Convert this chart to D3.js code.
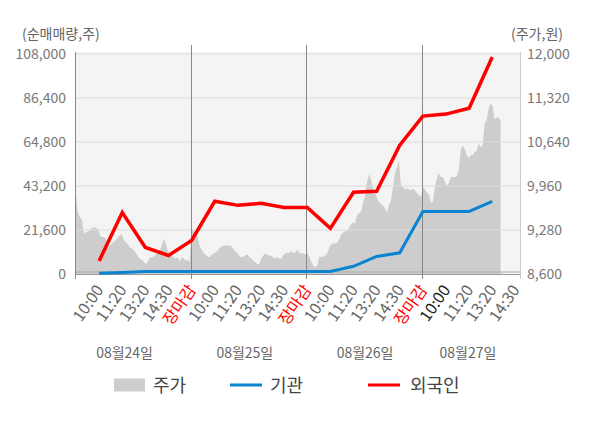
<!DOCTYPE html>
<html>
<head>
<meta charset="utf-8">
<script src="https://cdn.jsdelivr.net/npm/d3@7"></script>
<style>
  body { margin: 0; background: #fff; }
  text { font-family: "Noto Sans CJK KR", "Noto Sans", sans-serif; }
</style>
</head>
<body>
<div id="chart"></div>
<script>
// 날짜, 시간 라벨
const days = ["08월24일", "08월25일", "08월26일", "08월27일"];
const timeLabels = ["10:00", "11:20", "13:20", "14:30", "장마감"];
const lastDayLabels = ["10:00", "11:20", "13:20", "14:30"];

// 순매매량 (10:00 ~ 마지막 구간)
const foreign = [6400, 30200, 13000, 9100, 16500, 35700, 33700, 34700, 32700, 32700,
  22400, 40100, 40600, 63200, 77500, 78500, 81400, 106500];
const inst = [400, 700, 1200, 1200, 1200, 1200, 1200, 1200, 1200, 1200,
  1200, 3800, 8600, 10400, 30700, 30700, 30700, 35700];

// 주가 (일자별)
const price1 = [9820, 9540, 9480, 9430, 9230, 9240, 9260, 9270, 9320, 9320, 9320, 9290, 9200, 9170, 9170,
  9150, 9040, 9040, 9070, 9100, 9130, 9170, 9200, 9210, 9130, 9090, 9060, 9010, 9000, 8960, 8930, 8870,
  8840, 8820, 8790, 8750, 8790, 8860, 8860, 8870, 8900, 8920, 8960, 9040, 9150, 9070, 8960, 8920, 8890,
  8860, 8840, 8860, 8790, 8860, 8840, 8810, 8820, 8780];
const price2 = [9300, 9270, 9240, 9170, 9040, 8980, 8930, 8900, 8870, 8860, 8890, 8920, 8930, 8960, 9000,
  9030, 9040, 9040, 9040, 9040, 9030, 8980, 8950, 8920, 8870, 8860, 8870, 8890, 8900, 8860, 8840, 8810,
  8780, 8750, 8760, 8840, 8890, 8920, 8890, 8890, 8870, 8860, 8840, 8860, 8840, 8840, 8890, 8920, 8930,
  8920, 8950, 8930, 8930, 8980, 8930, 8920, 8920, 8900];
const price3 = [8930, 8870, 8790, 8730, 8700, 8730, 8870, 8860, 8870, 8890, 8920, 9000, 9060, 9070, 9070,
  9090, 9130, 9210, 9240, 9260, 9270, 9320, 9370, 9400, 9380, 9510, 9540, 9570, 9710, 9790, 10020, 10140,
  10060, 9920, 9850, 9770, 9710, 9690, 9660, 9610, 9550, 9660, 9740, 9940, 10160, 10250, 10360, 9970,
  9940, 9910, 9920, 9910, 9890, 9920, 9890, 9850, 9820, 9790];
const price4 = [9940, 9910, 9860, 9830, 9710, 9710, 9940, 10080, 10160, 10100, 10100, 10030, 9970, 10000,
  10100, 10100, 10100, 10110, 10200, 10510, 10590, 10530, 10440, 10390, 10440, 10440, 10480, 10510, 10620,
  10560, 10590, 10930, 10980, 11160, 11240, 11200, 10990, 11020, 11020, 10960];

const leftTicks = [0, 21600, 43200, 64800, 86400, 108000];
const rightTicks = [8600, 9280, 9960, 10640, 11320, 12000];

const width = 600;
const height = 428;
const mLeft = 76, mRight = 520, mTop = 54, mBottom = 274;
const perDay = 58; // 하루 주가 표본 수

const x = d3.scaleLinear().domain([0, 19.2]).range([mLeft, mRight]);
const yL = d3.scaleLinear().domain([0, 108000]).range([mBottom, mTop]);
const yR = d3.scaleLinear().domain([8600, 12000]).range([mBottom, mTop]);

const svg = d3.select("#chart").append("svg")
  .attr("width", width).attr("height", height);

// 배경
svg.append("rect")
  .attr("x", mLeft).attr("y", mTop - 2)
  .attr("width", mRight - mLeft).attr("height", mBottom - mTop + 2)
  .attr("fill", "#f4f4f4");

// 주가 영역
const priceData = [price1, price2, price3, price4].flatMap((arr, d) =>
  arr.map((v, i) => ({ s: d * 5 + (i * 5) / perDay, v }))
);
const area = d3.area()
  .x((d) => x(d.s))
  .y0(yR(8600))
  .y1((d) => yR(d.v));
svg.append("path").datum(priceData)
  .attr("d", area)
  .attr("fill", "#cdcdcd");

// 가로 격자
svg.append("g").selectAll("line")
  .data(leftTicks.slice(1))
  .join("line")
  .attr("x1", mLeft).attr("x2", mRight)
  .attr("y1", (d) => yL(d)).attr("y2", (d) => yL(d))
  .attr("stroke", "#dcdcdc").attr("stroke-width", 1);

svg.append("line")
  .attr("x1", mLeft).attr("x2", mRight)
  .attr("y1", mBottom - 2).attr("y2", mBottom - 2)
  .attr("stroke", "#aaa");
svg.append("line")
  .attr("x1", mLeft).attr("x2", mRight)
  .attr("y1", mBottom + 0.5).attr("y2", mBottom + 0.5)
  .attr("stroke", "#999");

// 세로 구분선 (일자 경계 + 좌우 축)
svg.append("g").selectAll("line")
  .data([0, 5, 10, 15])
  .join("line")
  .attr("x1", (d) => Math.round(x(d)) - 0.5).attr("x2", (d) => Math.round(x(d)) - 0.5)
  .attr("y1", (d) => (d === 0 ? mTop - 2 : 45)).attr("y2", mBottom + 5)
  .attr("stroke", "#888");
svg.append("line")
  .attr("x1", mRight + 0.5).attr("x2", mRight + 0.5)
  .attr("y1", mTop - 2).attr("y2", mBottom + 5)
  .attr("stroke", "#ccc");

// 기관, 외국인 선
const line = d3.line().x((d, i) => x(i + 1)).y((d) => yL(d));
svg.append("path").datum(inst)
  .attr("d", line).attr("fill", "none")
  .attr("stroke", "#0a84d0").attr("stroke-width", 3);
svg.append("path").datum(foreign)
  .attr("d", line).attr("fill", "none")
  .attr("stroke", "#ff0000").attr("stroke-width", 3.5)
  .attr("stroke-linejoin", "miter");

// 좌측 축 라벨
svg.append("g").selectAll("text")
  .data(leftTicks)
  .join("text")
  .attr("x", 66).attr("y", (d) => yL(d))
  .attr("dy", "0.35em")
  .attr("text-anchor", "end")
  .attr("fill", "#777").style("font-size", "14px")
  .text((d) => d3.format(",")(d));

// 우측 축 라벨
svg.append("g").selectAll("text")
  .data(rightTicks)
  .join("text")
  .attr("x", 527).attr("y", (d) => yR(d))
  .attr("dy", "0.35em")
  .attr("fill", "#777").style("font-size", "14px")
  .text((d) => d3.format(",")(d));

svg.append("text").attr("x", 22).attr("y", 39)
  .attr("fill", "#666").style("font-size", "14px")
  .text("(순매매량,주)");
svg.append("text").attr("x", 563).attr("y", 39)
  .attr("text-anchor", "end")
  .attr("fill", "#666").style("font-size", "14px")
  .text("(주가,원)");

// x축 라벨
const xLabels = days.flatMap((day, d) =>
  (d < 3 ? timeLabels : lastDayLabels).map((t, i) => ({ s: d * 5 + i + 1, t, d, i }))
);
svg.append("g").selectAll("text")
  .data(xLabels)
  .join("text")
  .attr("transform", (d) => `translate(${x(d.s) + 5}, 290) rotate(-55)`)
  .attr("text-anchor", "end")
  .attr("fill", (d) => (d.t === "장마감" ? "#ff0000" : d.d === 3 && d.i === 0 ? "#222" : "#666"))
  .style("font-size", "16px")
  .text((d) => d.t);

// 날짜 라벨
const dayPos = [2.1, 7.3, 12.5, 16.95];
svg.append("g").selectAll("text")
  .data(days)
  .join("text")
  .attr("x", (d, i) => x(dayPos[i])).attr("y", 358)
  .attr("text-anchor", "middle")
  .attr("fill", "#666").style("font-size", "14px")
  .text((d) => d);

// 범례
const legend = svg.append("g").attr("transform", "translate(0, 385)");
legend.append("rect").attr("x", 114).attr("y", -6.5)
  .attr("width", 31).attr("height", 13).attr("fill", "#cdcdcd");
legend.append("text").attr("x", 153).attr("y", 7)
  .attr("fill", "#444").style("font-size", "18px").text("주가");
legend.append("line").attr("x1", 230).attr("x2", 262)
  .attr("stroke", "#0a84d0").attr("stroke-width", 3);
legend.append("text").attr("x", 270).attr("y", 7)
  .attr("fill", "#444").style("font-size", "18px").text("기관");
legend.append("line").attr("x1", 368).attr("x2", 400)
  .attr("stroke", "#ff0000").attr("stroke-width", 3);
legend.append("text").attr("x", 410).attr("y", 7)
  .attr("fill", "#444").style("font-size", "18px").text("외국인");
</script>
</body>
</html>
